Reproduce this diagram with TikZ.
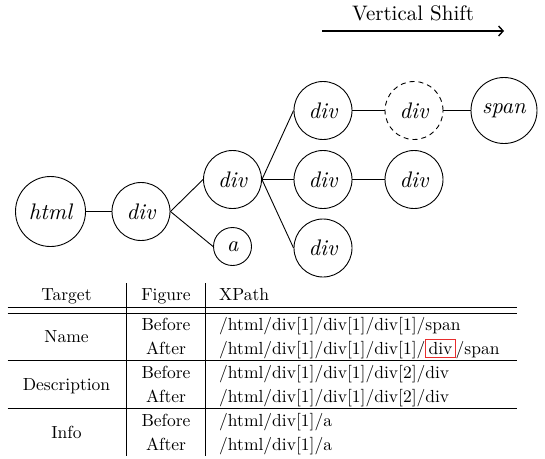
\documentclass[tikz,border=0pt]{standalone}
\usepackage{fontspec}
\setmainfont{lmroman10-regular.otf}[ItalicFont=lmroman10-italic.otf,BoldFont=lmroman10-bold.otf]
\usetikzlibrary{arrows.meta}
\definecolor{boxred}{RGB}{232,45,45}
\newcommand{\redbox}[1]{{\setlength{\fboxsep}{2.4pt}\setlength{\fboxrule}{0.8pt}\fcolorbox{boxred}{white}{#1}}}
\begin{document}
\begin{tikzpicture}[x=1pt,y=-1pt,
  tn/.style={circle,draw,line width=0.9pt,inner sep=0pt,minimum size=58pt,font=\fontsize{22.5}{26}\selectfont\itshape},
  conn/.style={line width=0.9pt},
  cell/.style={inner sep=0pt,anchor=base,font=\fontsize{17.5}{20}\selectfont},
  xcell/.style={cell,anchor=base west},
  tabrule/.style={line width=0.9pt}]
\useasboundingbox (0,0) rectangle (545,458);

% arrow
\node[inner sep=0pt,anchor=base,font=\fontsize{21}{24}\selectfont] (vs) at (413,20.7) {Vertical Shift};
\coordinate (as) at (322,31);
\coordinate (ae) at (504,31);
\draw[line width=1.4pt,-{Straight Barb[length=4.5pt,width=10pt,line width=1.4pt]}] (as) -- (ae);

% tree
\node[tn,minimum size=70pt] (html) at (50.5,211.5) {html};
\node[tn] (d1) at (141,211.5) {div};
\node[tn] (d2) at (232.5,179.5) {div};
\node[tn,minimum size=38pt] (a) at (232.5,246.5) {a};
\node[tn] (dT) at (323,110.5) {div};
\node[tn] (dM) at (323,179.5) {div};
\node[tn] (dB) at (323,248) {div};
\node[tn,dashed,dash pattern=on 5pt off 4pt] (dD) at (414,110.5) {div};
\node[tn] (dMR) at (414,179.5) {div};
\node[tn,minimum size=66pt] (span) at (504,110.5) {span};

\draw[conn] (html.east) -- (d1.west);
\draw[conn] (d1.east) -- (d2.west);
\draw[conn] (d1.east) -- (a.west);
\draw[conn] (d2.east) -- (dT.west);
\draw[conn] (d2.east) -- (dM.west);
\draw[conn] (d2.east) -- (dB.west);
\draw[conn] (dT.east) -- (dD.west);
\draw[conn] (dD.east) -- (span.west);
\draw[conn] (dM.east) -- (dMR.west);

% table rules
\coordinate (l1) at (7.5,307);   \coordinate (r1) at (517,307);
\coordinate (l2) at (7.5,313.5); \coordinate (r2) at (517,313.5);
\coordinate (l3) at (7.5,360.5); \coordinate (r3) at (517,360.5);
\coordinate (l4) at (7.5,408.5); \coordinate (r4) at (517,408.5);
\draw[tabrule] (l1) -- (r1);
\draw[tabrule] (l2) -- (r2);
\draw[tabrule] (l3) -- (r3);
\draw[tabrule] (l4) -- (r4);
\coordinate (v1t) at (126.5,283); \coordinate (v1b) at (126.5,456);
\coordinate (v2t) at (205,283);   \coordinate (v2b) at (205,456);
\draw[tabrule] (v1t) -- (v1b);
\draw[tabrule] (v2t) -- (v2b);

% header
\node[cell] (hT) at (66.5,300.5) {Target};
\node[cell] (hF) at (166,300.5) {Figure};
\node[xcell] (hX) at (219,300.5) {XPath};

% rows
\node[cell] (tN) at (66.5,342) {Name};
\node[cell] (tD) at (66.5,390) {Description};
\node[cell] (tI) at (66.5,438) {Info};

\node[cell] (f1) at (166,330) {Before};
\node[cell] (f2) at (166,354) {After};
\node[cell] (f3) at (166,378) {Before};
\node[cell] (f4) at (166,402) {After};
\node[cell] (f5) at (166,426) {Before};
\node[cell] (f6) at (166,450) {After};

\node[xcell] (x1) at (219,330) {/html/div[1]/div[1]/div[1]/span};
\node[xcell] (x2) at (219,354) {/html/div[1]/div[1]/div[1]/\redbox{div}/span};
\node[xcell] (x3) at (219,378) {/html/div[1]/div[1]/div[2]/div};
\node[xcell] (x4) at (219,402) {/html/div[1]/div[1]/div[2]/div};
\node[xcell] (x5) at (219,426) {/html/div[1]/a};
\node[xcell] (x6) at (219,450) {/html/div[1]/a};
\end{tikzpicture}
\end{document}
